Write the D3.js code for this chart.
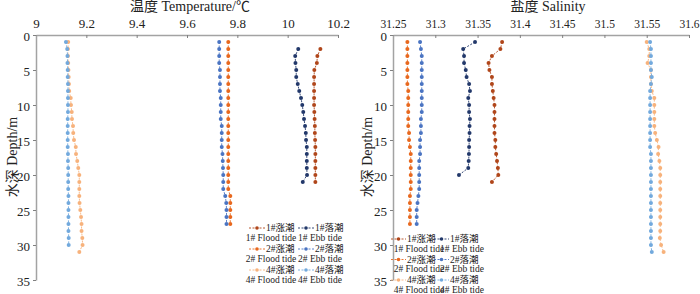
<!DOCTYPE html>
<html>
<head>
<meta charset="utf-8">
<script src="https://cdn.jsdelivr.net/npm/d3@7"></script>
<style>
  body { margin: 0; background: #fff; }
  svg text { font-family: 'Liberation Serif', 'Times New Roman', 'Noto Sans CJK SC', serif; fill: #222; }
</style>
</head>
<body>
<div id="chart"></div>
<script>
// depths (m)
const depth1T = [2, 3, 4, 5, 6, 7, 8, 9, 10, 11, 12, 13, 14, 15, 16, 17, 18, 19, 20, 21]
const depth1S = [1, 2, 3, 4, 5, 6, 7, 8, 9, 10, 11, 12, 13, 14, 15, 16, 17, 18, 19, 20, 21]
const depth1SEbb = [1, 2, 3, 4, 5, 6, 7, 8, 9, 10, 11, 12, 13, 14, 15, 16, 17, 18, 19, 20]
const depth2 = [1, 2, 3, 4, 5, 6, 7, 8, 9, 10, 11, 12, 13, 14, 15, 16, 17, 18, 19, 20, 21, 22, 23, 24, 25, 26, 27]
const depth4 = [1, 2, 3, 4, 5, 6, 7, 8, 9, 10, 11, 12, 13, 14, 15, 16, 17, 18, 19, 20, 21, 22, 23, 24, 25, 26, 27, 28, 29, 30, 31]
const depth4TEbb = [1, 2, 3, 4, 5, 6, 7, 8, 9, 10, 11, 12, 13, 14, 15, 16, 17, 18, 19, 20, 21, 22, 23, 24, 25, 26, 27, 28, 29, 30]

// temperature
const temp1Flood = [10.13, 10.118, 10.116, 10.106, 10.105, 10.105, 10.105, 10.105, 10.105, 10.106, 10.107, 10.108, 10.108, 10.109, 10.11, 10.11, 10.11, 10.11, 10.11, 10.11]
const temp1Ebb = [10.042, 10.03, 10.031, 10.034, 10.034, 10.04, 10.046, 10.053, 10.058, 10.062, 10.065, 10.069, 10.072, 10.073, 10.076, 10.076, 10.076, 10.076, 10.077, 10.06]
const temp2Flood = [9.764, 9.764, 9.764, 9.764, 9.764, 9.764, 9.764, 9.764, 9.764, 9.764, 9.764, 9.764, 9.764, 9.764, 9.764, 9.764, 9.764, 9.764, 9.764, 9.764, 9.764, 9.764, 9.772, 9.772, 9.772, 9.772, 9.772]
const temp2Ebb = [9.728, 9.728, 9.728, 9.728, 9.731, 9.731, 9.731, 9.731, 9.734, 9.734, 9.734, 9.734, 9.738, 9.738, 9.738, 9.738, 9.741, 9.742, 9.743, 9.744, 9.744, 9.744, 9.752, 9.756, 9.757, 9.757, 9.757]
const temp4Flood = [9.128, 9.127, 9.127, 9.128, 9.129, 9.13, 9.131, 9.132, 9.138, 9.139, 9.142, 9.143, 9.147, 9.148, 9.151, 9.158, 9.159, 9.164, 9.168, 9.172, 9.172, 9.172, 9.172, 9.173, 9.176, 9.179, 9.181, 9.181, 9.184, 9.185, 9.172]
const temp4Ebb = [9.119, 9.124, 9.125, 9.125, 9.126, 9.126, 9.127, 9.127, 9.127, 9.127, 9.127, 9.126, 9.126, 9.126, 9.126, 9.126, 9.127, 9.127, 9.128, 9.128, 9.128, 9.128, 9.129, 9.129, 9.129, 9.129, 9.129, 9.129, 9.13, 9.13]

// salinity
const sal1Flood = [31.379, 31.377, 31.367, 31.363, 31.364, 31.367, 31.367, 31.368, 31.369, 31.37, 31.37, 31.37, 31.37, 31.37, 31.371, 31.371, 31.372, 31.373, 31.374, 31.3745, 31.367]
const sal1Ebb = [31.347, 31.333, 31.334, 31.334, 31.336, 31.337, 31.34, 31.341, 31.339, 31.34, 31.34, 31.341, 31.3405, 31.3405, 31.34, 31.34, 31.3398, 31.3395, 31.339, 31.328]
const sal2Flood = [31.267, 31.267, 31.267, 31.267, 31.267, 31.267, 31.267, 31.268, 31.268, 31.268, 31.268, 31.268, 31.268, 31.269, 31.269, 31.27, 31.271, 31.271, 31.271, 31.271, 31.271, 31.271, 31.27, 31.27, 31.27, 31.27, 31.27]
const sal2Ebb = [31.282, 31.283, 31.284, 31.284, 31.284, 31.284, 31.284, 31.284, 31.284, 31.284, 31.284, 31.283, 31.283, 31.283, 31.282, 31.282, 31.282, 31.281, 31.281, 31.281, 31.281, 31.281, 31.28, 31.279, 31.278, 31.278, 31.278]
const sal4Flood = [31.55, 31.553, 31.553, 31.551, 31.555, 31.555, 31.555, 31.556, 31.559, 31.559, 31.559, 31.559, 31.559, 31.56, 31.562, 31.564, 31.5635, 31.565, 31.566, 31.566, 31.566, 31.566, 31.566, 31.566, 31.566, 31.566, 31.566, 31.566, 31.5655, 31.567, 31.57]
const sal4Ebb = [31.554, 31.555, 31.555, 31.555, 31.555, 31.556, 31.555, 31.554, 31.554, 31.554, 31.554, 31.554, 31.554, 31.554, 31.554, 31.554, 31.555, 31.555, 31.555, 31.555, 31.555, 31.555, 31.555, 31.555, 31.555, 31.555, 31.555, 31.555, 31.555, 31.555, 31.556]

// ticks
const tempTicks = [9, 9.2, 9.4, 9.6, 9.8, 10, 10.2]
const tempTickLabels = ['9', '9.2', '9.4', '9.6', '9.8', '10', '10.2']
const salTicks = [31.25, 31.3, 31.35, 31.4, 31.45, 31.5, 31.55, 31.6]
const salTickLabels = ['31.25', '31.3', '31.35', '31.4', '31.45', '31.5', '31.55', '31.6']
const depthTicks = [0, 5, 10, 15, 20, 25, 30, 35]

const seriesNames = [
  ['1#涨潮', '1# Flood tide'], ['1#落潮', '1# Ebb tide'],
  ['2#涨潮', '2# Flood tide'], ['2#落潮', '2# Ebb tide'],
  ['4#涨潮', '4# Flood tide'], ['4#落潮', '4# Ebb tide']
]
const colors = ['#b0461a', '#22386a', '#e8681e', '#4a74c2', '#f7b27c', '#72a9dd']

const FONT = "'Liberation Serif', 'Times New Roman', 'Noto Sans CJK SC', serif"
const W = 700
const H = 294
const plotTop = 35
const plotBottom = 280

const svg = d3.select('#chart').append('svg')
  .attr('width', W)
  .attr('height', H)

const yScale = d3.scaleLinear().domain([0, 35]).range([plotTop, plotBottom])

function panel (cfg) {
  const g = svg.append('g')
  const xScale = d3.scaleLinear().domain(cfg.domain).range(cfg.range)

  // x axis on top
  const xAxis = g.append('g')
    .attr('transform', `translate(0, ${plotTop})`)
    .call(d3.axisTop(xScale)
      .tickValues(cfg.ticks)
      .tickFormat((d, i) => cfg.labels[i])
      .tickSizeInner(-3)
      .tickSizeOuter(0)
      .tickPadding(7))
  xAxis.attr('font-family', FONT)
  xAxis.selectAll('text').style('font-size', cfg.tickFont + 'px')

  const yAxis = g.append('g')
    .attr('transform', `translate(${cfg.range[0]}, 0)`)
    .call(d3.axisLeft(yScale)
      .tickValues(depthTicks)
      .tickSizeInner(3)
      .tickSizeOuter(0)
      .tickPadding(3))
  yAxis.attr('font-family', FONT)
  yAxis.selectAll('text').style('font-size', '13px').attr('dy', '0.45em')

  g.selectAll('.domain').attr('stroke', '#a3a3a3').attr('stroke-width', 1.5)
  g.selectAll('.tick line').attr('stroke', '#808080')

  // titles
  g.append('text')
    .attr('x', cfg.titleX)
    .attr('y', 11)
    .attr('text-anchor', 'middle')
    .style('font-size', '14px')
    .text(cfg.title)
  g.append('text')
    .attr('transform', `translate(${cfg.yLabelX}, 157) rotate(-90)`)
    .attr('text-anchor', 'middle')
    .attr('dy', '0.35em')
    .style('font-size', '14px')
    .text('水深 Depth/m')

  // series
  const line = d3.line()
    .x(d => xScale(d[1]))
    .y(d => yScale(d[0]))

  cfg.series.forEach((s, i) => {
    const pts = d3.zip(s.depth, s.values)
    g.append('path')
      .datum(pts)
      .attr('d', line)
      .attr('fill', 'none')
      .attr('stroke', colors[i])
      .attr('stroke-width', 0.9)
      .attr('stroke-dasharray', '2,1.5')
    g.append('g')
      .selectAll('circle')
      .data(pts)
      .join('circle')
      .attr('cx', d => xScale(d[1]))
      .attr('cy', d => yScale(d[0]))
      .attr('r', 2)
      .attr('fill', colors[i])
  })

  // legend
  const lg = cfg.legend
  seriesNames.forEach((names, i) => {
    const col = i % 2
    const row = Math.floor(i / 2)
    const x0 = lg.x + col * lg.colGap
    const y0 = lg.y + row * lg.rowGap
    const item = g.append('g')
    item.append('line')
      .attr('x1', x0).attr('x2', x0 + lg.symW)
      .attr('y1', y0).attr('y2', y0)
      .attr('stroke', colors[i])
      .attr('stroke-width', 0.9)
      .attr('stroke-dasharray', '2,1.5')
    item.append('circle')
      .attr('cx', x0 + lg.symW / 2)
      .attr('cy', y0)
      .attr('r', 1.8)
      .attr('fill', colors[i])
    item.append('text')
      .attr('x', x0 + lg.symW + 1)
      .attr('y', y0)
      .attr('dy', '0.35em')
      .style('font-size', '9.5px')
      .text(names[0])
    item.append('text')
      .attr('x', x0 + lg.textOff)
      .attr('y', y0 + 9.5)
      .attr('dy', '0.35em')
      .attr('text-anchor', 'middle')
      .style('font-size', '9.5px')
      .text(names[1])
  })
}

panel({
  domain: [9, 10.2],
  range: [36, 338],
  ticks: tempTicks,
  labels: tempTickLabels,
  tickFont: 13,
  title: '温度 Temperature/℃',
  titleX: 190,
  yLabelX: 12,
  legend: { x: 249, y: 228, colGap: 49, rowGap: 21, symW: 16, textOff: 22 },
  series: [
    { depth: depth1T, values: temp1Flood },
    { depth: depth1T, values: temp1Ebb },
    { depth: depth2, values: temp2Flood },
    { depth: depth2, values: temp2Ebb },
    { depth: depth4, values: temp4Flood },
    { depth: depth4TEbb, values: temp4Ebb }
  ]
})

panel({
  domain: [31.25, 31.6],
  range: [393, 689],
  ticks: salTicks,
  labels: salTickLabels,
  tickFont: 11.5,
  title: '盐度 Salinity',
  titleX: 548,
  yLabelX: 367,
  legend: { x: 391, y: 239, colGap: 43, rowGap: 20.5, symW: 15, textOff: 28 },
  series: [
    { depth: depth1S, values: sal1Flood },
    { depth: depth1SEbb, values: sal1Ebb },
    { depth: depth2, values: sal2Flood },
    { depth: depth2, values: sal2Ebb },
    { depth: depth4, values: sal4Flood },
    { depth: depth4, values: sal4Ebb }
  ]
})
</script>
</body>
</html>
